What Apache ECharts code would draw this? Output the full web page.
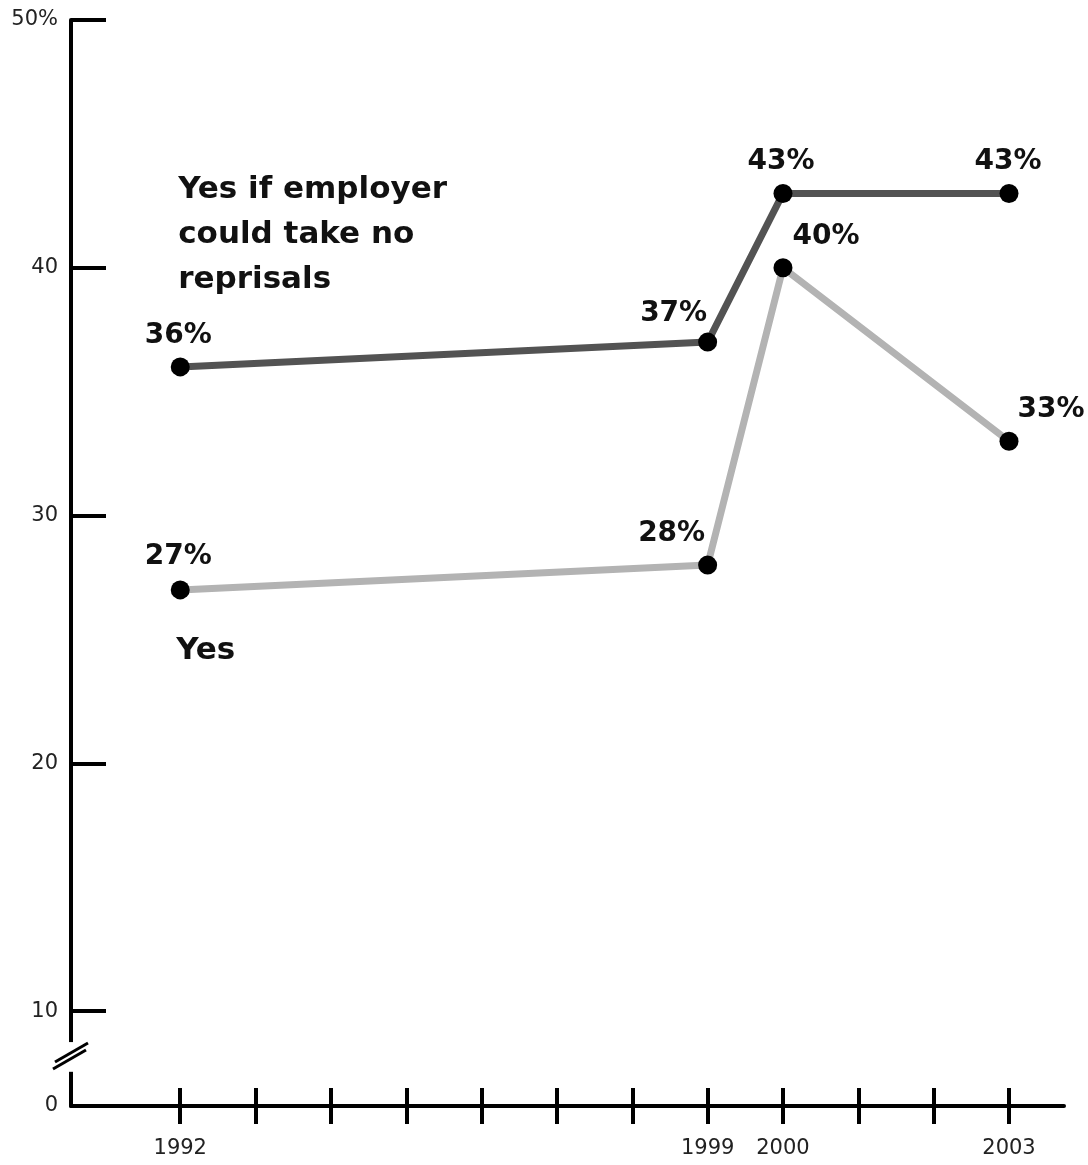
<!DOCTYPE html>
<html>
<head>
<meta charset="utf-8">
<script src="https://cdn.jsdelivr.net/npm/echarts@6/dist/echarts.min.js"></script>
<style>
  html, body { margin: 0; padding: 0; background: #fff; }
  #main { width: 1088px; height: 1165px; }
</style>
</head>
<body>
<div id="main"></div>
<script>
// data
const years = [1992, 1999, 2000, 2003];
const noReprisals = [36, 37, 43, 43];
const yesValues = [27, 28, 40, 33];
const yearTicks = [1992, 1993, 1994, 1995, 1996, 1997, 1998, 1999, 2000, 2001, 2002, 2003];
const yearLabels = [1992, 1999, 2000, 2003];
const yTicks = [10, 20, 30, 40, 50];

// axis range (the part below 10 is broken, bottom of axis reads 0)
const yMin = 6.17, yMax = 50;
const xMin = 1990.55, xMax = 2003.73;

const FONT = "DejaVu Sans";

// label offsets per point, [dx, dy]
const darkOffsets = [[-2, 0], [-34, 3], [-2, 0], [-1, 0]];
const lightOffsets = [[-2, -2], [-36, 0], [43, 0], [42, 0]];

function buildData(vals, offsets) {
  return years.map((y, i) => ({
    value: [y, vals[i]],
    label: { offset: offsets[i] }
  }));
}

function lineSeries(name, vals, color, offsets) {
  return {
    name: name,
    type: "line",
    data: buildData(vals, offsets),
    symbol: "circle",
    symbolSize: 19,
    itemStyle: { color: "#000" },
    lineStyle: { color: color, width: 7 },
    label: {
      show: true,
      position: "top",
      distance: 8,
      fontFamily: FONT,
      fontWeight: "bold",
      fontSize: 28,
      color: "#111",
      formatter: p => p.value[1] + "%"
    },
    emphasis: { disabled: true },
    z: 3
  };
}

let chart = echarts.init(document.getElementById("main"));
let option = {
  animation: false,
  backgroundColor: "#fff",
  grid: { left: 71, right: 24, top: 20, bottom: 59, outerBoundsMode: "none" },
  xAxis: [
    {
      type: "value",
      min: xMin,
      max: xMax,
      splitLine: { show: false },
      axisLine: { show: true, onZero: false, lineStyle: { color: "#000", width: 4 } },
      axisTick: { show: true, inside: false, length: 18, customValues: yearTicks, lineStyle: { color: "#000", width: 4 } },
      axisLabel: {
        customValues: yearLabels,
        margin: 32,
        fontFamily: FONT,
        fontSize: 21,
        color: "#222",
        formatter: v => String(v)
      }
    },
    {
      // second axis only to make the ticks cross the line
      type: "value",
      position: "bottom",
      min: xMin,
      max: xMax,
      splitLine: { show: false },
      axisLine: { show: false, onZero: false },
      axisTick: { show: true, inside: true, length: 18, customValues: yearTicks, lineStyle: { color: "#000", width: 4 } },
      axisLabel: { show: false }
    }
  ],
  yAxis: {
    type: "value",
    min: yMin,
    max: yMax,
    splitLine: { show: false },
    axisLine: { show: true, lineStyle: { color: "#000", width: 4 } },
    axisTick: { show: true, inside: true, length: 35, customValues: yTicks, lineStyle: { color: "#000", width: 4 } },
    axisLabel: {
      customValues: [yMin].concat(yTicks),
      margin: 13,
      fontFamily: FONT,
      fontSize: 21,
      color: "#222",
      formatter: v => (v === 50 ? "50%" : v < 10 ? "0" : String(v))
    }
  },
  series: [
    lineSeries("Yes", yesValues, "#b3b3b3", lightOffsets),
    lineSeries("Yes if employer could take no reprisals", noReprisals, "#535353", darkOffsets)
  ]
};
chart.setOption(option);

// axis break and series names, placed from the axis scales
let x0 = chart.convertToPixel({ xAxisIndex: 0 }, 1992);
let axisX = chart.convertToPixel({ xAxisIndex: 0 }, xMin);
let breakTop = chart.convertToPixel({ yAxisIndex: 0 }, 8.75);
let breakBot = chart.convertToPixel({ yAxisIndex: 0 }, 7.55);
let bMid = (breakTop + breakBot) / 2;

chart.setOption({
  graphic: [
    {
      type: "rect",
      shape: { x: axisX - 6, y: breakTop, width: 12, height: breakBot - breakTop },
      style: { fill: "#fff" },
      z: 100
    },
    {
      type: "line",
      shape: { x1: axisX - 18, y1: bMid + 12, x2: axisX + 15, y2: bMid - 7 },
      style: { stroke: "#000", lineWidth: 3 },
      z: 101
    },
    {
      type: "line",
      shape: { x1: axisX - 16, y1: bMid + 5, x2: axisX + 17, y2: bMid - 14 },
      style: { stroke: "#000", lineWidth: 3 },
      z: 101
    },
    {
      type: "text",
      x: x0 - 2,
      y: 167,
      style: {
        text: "Yes if employer\ncould take no\nreprisals",
        font: "bold 31px '" + FONT + "'",
        lineHeight: 45,
        fill: "#111",
        verticalAlign: "top",
        align: "left"
      },
      z: 50
    },
    {
      type: "text",
      x: x0 - 4,
      y: 651,
      style: {
        text: "Yes",
        font: "bold 31px '" + FONT + "'",
        fill: "#111",
        verticalAlign: "middle",
        align: "left"
      },
      z: 50
    }
  ]
});
</script>
</body>
</html>
